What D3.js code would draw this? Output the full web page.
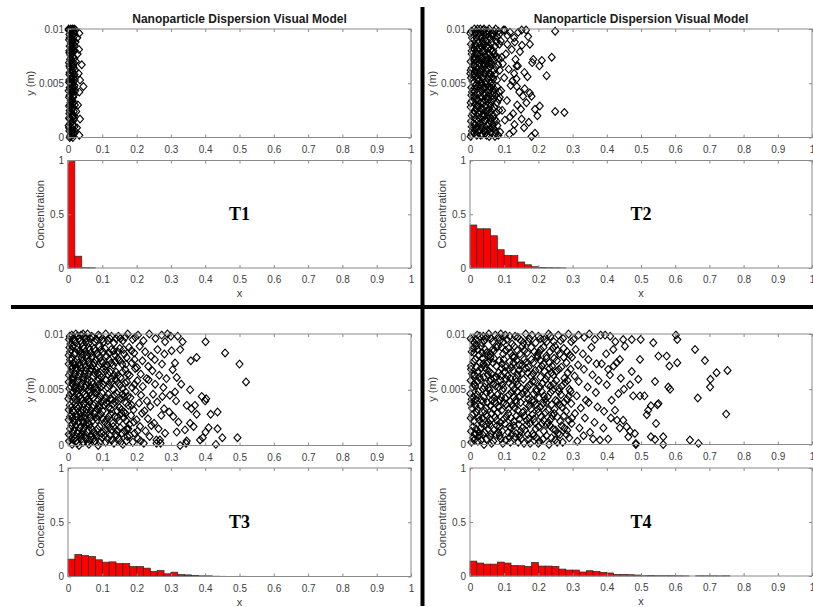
<!DOCTYPE html>
<html>
<head>
<meta charset="utf-8">
<script src="https://cdn.jsdelivr.net/npm/d3@7"></script>
<style>
  body { margin: 0; background: #fff; }
  svg text { font-family: "Liberation Sans", Arial, sans-serif; }
</style>
</head>
<body>
<svg id="chart" width="813" height="607"></svg>
<script>
// ---- data ----
const xTicks = [0, 0.1, 0.2, 0.3, 0.4, 0.5, 0.6, 0.7, 0.8, 0.9, 1];
const yTicksScatter = [0, 0.005, 0.01];
const yTicksHist = [0, 0.5, 1];
const binWidth = 0.02;
const panelLabels = ["T1", "T2", "T3", "T4"];
const titleText = "Nanoparticle Dispersion Visual Model";

// concentration per 0.02-wide bin, starting at x = 0
const hist1 = [1.0, 0.11, 0.003, 0.002];
const hist2 = [0.40, 0.365, 0.365, 0.30, 0.17, 0.118, 0.115, 0.056, 0.03, 0.012, 0.006, 0.003, 0.002, 0.001];
const hist3 = [0.16, 0.203, 0.194, 0.185, 0.154, 0.132, 0.135, 0.12, 0.12, 0.092, 0.092, 0.077, 0.046, 0.055,
  0.025, 0.04, 0.018, 0.015, 0.01, 0.006, 0.006, 0.003, 0.002, 0.001, 0.001, 0.002];
const hist4 = [0.138, 0.12, 0.11, 0.11, 0.129, 0.12, 0.098, 0.095, 0.089, 0.126, 0.092, 0.092, 0.089, 0.064,
  0.055, 0.055, 0.037, 0.049, 0.043, 0.034, 0.028, 0.015, 0.015, 0.012, 0.009, 0.003, 0.006, 0.003, 0.003,
  0.003, 0.002, 0.001, 0, 0.002, 0.002, 0.002, 0.001, 0.002];

// particle positions: [x in percent of 1, y in mm]
const points1 = [
  [0.8,0.1],[1.6,0.3],[0.4,0.6],[1.2,0.8],[1.9,1.0],[0.6,1.3],[1.4,1.5],[0.3,1.8],[1.8,2.0],[1.0,2.2],
  [0.5,2.5],[1.5,2.7],[2.0,3.0],[0.7,3.2],[1.3,3.4],[0.3,3.7],[1.7,3.9],[0.9,4.1],[1.4,4.4],[0.5,4.6],
  [1.9,4.8],[1.1,5.0],[0.4,5.3],[1.6,5.5],[0.8,5.7],[1.3,6.0],[2.1,6.2],[0.6,6.4],[1.5,6.6],[0.3,6.9],
  [1.0,7.1],[1.8,7.3],[0.7,7.6],[1.4,7.8],[0.4,8.0],[1.2,8.3],[1.9,8.5],[0.8,8.7],[1.5,9.0],[0.5,9.2],
  [1.1,9.4],[1.8,9.6],[0.6,9.8],[1.3,10],[0.2,9.9],[2.2,9.9],[1.0,0.5],[0.9,2.8],[1.2,4.9],[0.9,6.8],
  [1.1,8.9],[1.7,1.7],[0.6,5.0],[1.6,8.1],[2.4,2.4],[2.3,7.0],
  [1.0,0.3],[0.3,0.9],[1.5,1.1],[0.8,1.6],[1.2,2.0],[0.4,2.2],[1.7,2.4],[1.1,2.6],[0.6,3.0],[1.6,3.2],
  [1.0,3.6],[0.5,3.9],[1.3,4.2],[0.7,4.4],[1.7,4.6],[1.0,4.8],[0.3,5.1],[1.4,5.2],[0.9,5.4],[1.9,5.8],
  [0.5,6.0],[1.1,6.3],[1.7,6.9],[0.6,7.2],[1.3,7.4],[0.9,7.9],[1.8,8.0],[0.5,8.4],[1.4,8.6],[0.9,9.1],
  [1.7,9.3],[0.4,9.5],[1.2,9.8],[0.8,10],[1.8,10],[1.4,0.0],[0.5,0.0],[2.0,0.6],[2.1,4.3],[2.0,5.3],
  [2.2,8.8],
  [0.7,0.2],[1.3,0.6],[0.2,1.1],[1.1,1.4],[0.5,1.7],[1.4,1.9],[0.8,2.4],[0.3,2.9],[1.2,3.1],[0.8,3.4],
  [1.5,3.7],[0.2,4.3],[0.8,4.6],[1.5,4.9],[0.7,5.2],[1.2,5.6],[0.4,5.8],[1.0,6.1],[1.7,6.4],[0.4,6.6],
  [1.2,6.9],[0.8,7.3],[0.4,7.8],[1.1,8.1],[0.7,8.5],[1.3,8.8],[0.3,9.0],[1.0,9.6],[1.5,9.9],[0.2,10],
  [4.0,6.7],[4.5,4.7],[3.3,9.6],[3.5,5.3],[3.3,4.2],[3.5,1.7],[3.3,0.2],[3.2,8.1],[3.1,5.9],[2.9,3.0],
  [2.8,7.7],[2.7,9.2],[2.6,0.9]
];
const points2 = [
  [0.5,0.3],[1.8,0.8],[3.1,0.2],[4.2,0.6],[5.6,0.1],[6.4,0.9],[7.5,0.4],[2.4,0.5],[0.9,0.9],[5.0,0.7],
  [0.3,1.5],[1.5,1.2],[2.7,1.8],[3.8,1.3],[4.9,1.9],[6.1,1.4],[7.2,1.7],[8.0,1.1],[2.1,1.0],[5.5,1.3],
  [0.8,2.2],[1.9,2.7],[3.0,2.4],[4.4,2.9],[5.3,2.1],[6.6,2.6],[7.7,2.3],[0.2,2.8],[3.6,2.0],[6.0,2.9],
  [0.6,3.4],[1.6,3.1],[2.8,3.7],[4.0,3.2],[5.1,3.8],[6.3,3.3],[7.4,3.9],[8.4,3.5],[2.2,3.0],[4.7,3.6],
  [0.4,4.6],[1.3,4.2],[2.5,4.8],[3.5,4.3],[4.6,4.9],[5.8,4.4],[6.9,4.1],[7.9,4.7],[3.0,4.5],[6.4,4.8],
  [0.7,5.2],[1.7,5.7],[2.9,5.3],[4.1,5.9],[5.2,5.4],[6.2,5.1],[7.3,5.8],[0.1,5.9],[3.4,5.0],[5.7,5.6],
  [0.5,6.4],[1.4,6.1],[2.6,6.8],[3.7,6.3],[4.8,6.9],[5.9,6.5],[7.0,6.2],[8.2,6.7],[2.0,6.0],[4.3,6.6],
  [0.9,7.3],[2.0,7.8],[3.2,7.1],[4.3,7.6],[5.4,7.2],[6.5,7.9],[7.6,7.4],[0.2,7.0],[2.7,7.5],[5.9,7.0],
  [0.3,8.6],[1.2,8.1],[2.4,8.7],[3.5,8.3],[4.5,8.9],[5.7,8.4],[6.8,8.0],[7.8,8.8],[1.8,8.4],[4.1,8.0],
  [0.6,9.2],[1.6,9.7],[2.8,9.3],[3.9,9.9],[5.0,9.5],[6.1,9.1],[7.1,9.8],[0.1,9.6],[2.2,10],[4.4,9.4],
  [5.6,10],[6.6,9.6],[7.9,9.3],
  [0.2,0.1],[1.2,0.4],[2.9,0.7],[3.6,0.3],[4.8,0.2],[6.0,0.5],[7.0,0.8],[8.3,0.2],
  [1.0,1.3],[2.4,1.5],[3.3,1.1],[4.4,1.6],[5.9,1.8],[6.7,1.2],[7.7,1.5],
  [0.5,2.0],[1.4,2.4],[2.4,2.2],[3.9,2.6],[4.9,2.4],[5.8,2.3],[7.1,2.8],[8.5,2.5],
  [0.2,3.2],[1.1,3.8],[2.5,3.4],[3.4,3.7],[4.4,3.4],[5.6,3.1],[6.8,3.6],[7.9,3.2],
  [0.9,4.4],[1.9,4.5],[2.8,4.1],[4.1,4.6],[5.3,4.2],[6.1,4.6],[7.3,4.4],[8.5,4.2],
  [0.3,5.5],[1.2,5.1],[2.3,5.5],[3.7,5.5],[4.7,5.2],[5.9,5.9],[6.8,5.4],[7.9,5.3],
  [1.0,6.7],[1.8,6.5],[3.1,6.1],[4.0,6.8],[5.3,6.3],[6.3,6.8],[7.5,6.5],[8.7,6.2],
  [0.5,7.7],[1.5,7.4],[2.4,7.2],[3.7,7.9],[4.9,7.4],[6.2,7.4],[7.1,7.7],[8.4,7.3],
  [0.8,8.3],[2.1,8.1],[3.0,8.5],[4.0,8.6],[5.2,8.2],[6.3,8.7],[7.3,8.4],[8.6,8.6],
  [1.1,9.0],[2.5,9.6],[3.4,9.2],[4.8,9.8],[5.5,9.3],[6.8,9.4],[7.5,10],[8.3,9.8],[1.3,10],[3.0,10],[4.1,10],
  [0.6,0.6],[2.0,0.2],[3.4,0.9],[4.5,0.4],[5.8,0.8],[7.3,0.1],
  [0.5,1.0],[1.9,1.6],[2.9,1.3],[4.0,1.9],[5.2,1.1],[6.4,1.7],
  [1.1,2.2],[2.1,2.9],[3.2,2.7],[4.2,2.1],[5.5,2.6],[6.9,2.0],
  [0.4,3.9],[1.9,3.5],[3.1,3.2],[4.3,3.9],[5.4,3.5],[6.6,3.9],
  [0.6,4.2],[1.6,4.8],[3.3,4.8],[4.4,4.1],[5.6,4.7],[6.6,4.3],
  [0.9,5.8],[2.0,5.3],[3.1,5.8],[4.4,5.1],[5.5,5.9],[6.5,5.6],
  [0.2,6.2],[1.2,6.6],[2.3,6.3],[3.4,6.7],[4.6,6.2],[5.7,6.8],
  [1.2,7.1],[2.2,7.6],[3.4,7.4],[4.6,7.1],[5.6,7.7],[6.8,7.2],
  [0.5,8.0],[1.5,8.6],[2.7,8.2],[3.7,8.8],[4.9,8.4],[6.0,8.1],
  [0.4,9.8],[1.9,9.2],[3.1,9.7],[4.2,9.1],[5.3,9.8],[6.4,9.4],
  [8.8,0.5],[10.2,1.6],[11.5,0.3],[9.4,2.5],[12.6,2.2],[10.8,3.4],[13.8,3.0],[9.1,4.3],[11.9,4.8],[14.4,4.2],
  [10.0,5.5],[12.9,5.9],[9.6,6.8],[11.3,6.3],[13.6,6.6],[10.5,7.7],[12.2,8.1],[14.6,7.9],[9.0,8.9],[11.0,9.4],
  [12.9,9.2],[14.1,9.7],[9.8,9.9],[15.2,8.5],[13.0,1.2],[15.5,3.8],[8.7,3.7],[11.7,1.9],[14.9,2.6],[10.9,8.6],
  [13.3,7.2],[15.9,6.0],[9.3,7.4],[12.4,5.2],[8.5,9.5],[13.7,4.7],[15.1,9.9],
  [24.9,9.8],[23.9,7.4],[22.4,5.7],[24.9,2.4],[27.6,2.3],[21.0,7.1],[20.3,6.6],[20.4,2.9],[19.0,2.6],[19.7,2.0],
  [19.0,0.4],[18.0,0.1],[16.4,9.9],[17.0,9.3],[17.5,8.6],[18.5,7.2],[17.5,4.1],[18.0,3.8],[16.0,4.5],[16.5,3.2],
  [15.1,1.7],[15.8,0.9],[12.7,0.6],[13.1,8.8],[14.0,6.6],[13.6,5.4],[11.7,9.7],[10.2,9.9],[18.2,6.9],[16.8,5.6],
  [17.2,1.4]
];
const points3 = [
  [0.3,0.4],[1.2,0.1],[2.0,0.7],[2.7,0.2],[3.6,0.9],[4.4,0.3],[5.2,0.6],[6.1,0.1],[6.9,0.8],[7.8,0.4],
  [8.8,0.0],[9.9,0.7],[11.0,0.3],[12.3,0.9],[13.4,0.2],[14.8,0.6],[16.0,0.1],[17.3,0.8],[18.9,0.3],[20.4,0.6],
  [22.1,0.2],[23.8,0.8],[25.8,0.5],[27.0,0.2],
  [0.6,1.5],[1.4,1.1],[2.3,1.8],[3.0,1.3],[3.9,1.0],[4.7,1.6],[5.6,1.2],[6.3,1.9],[7.2,1.4],[8.1,1.0],
  [9.2,1.7],[10.3,1.2],[11.5,1.9],[12.7,1.4],[13.9,1.0],[15.2,1.6],[16.5,1.3],[17.9,1.9],[19.4,1.1],[21.0,1.7],
  [22.6,1.3],[24.3,1.8],[26.4,1.5],[28.3,1.1],
  [0.2,2.3],[1.0,2.8],[1.8,2.1],[2.6,2.6],[3.4,2.9],[4.3,2.2],[5.0,2.7],[5.9,2.0],[6.6,2.5],[7.6,2.9],
  [8.5,2.3],[9.6,2.8],[10.7,2.1],[11.9,2.6],[13.1,2.0],[14.4,2.5],[15.6,2.9],[17.0,2.2],[18.4,2.7],[20.0,2.3],
  [21.6,2.9],[23.3,2.4],[25.1,2.0],[27.2,2.7],
  [0.5,3.6],[1.3,3.1],[2.2,3.8],[2.9,3.3],[3.8,3.0],[4.6,3.7],[5.4,3.2],[6.2,3.9],[7.1,3.4],[8.0,3.0],
  [9.0,3.6],[10.1,3.1],[11.2,3.8],[12.5,3.3],[13.7,3.9],[15.0,3.4],[16.3,3.0],[17.6,3.6],[19.1,3.2],[20.7,3.8],
  [22.3,3.1],[24.0,3.5],[26.0,3.9],[28.0,3.3],
  [0.1,4.2],[0.9,4.7],[1.7,4.3],[2.5,4.9],[3.3,4.4],[4.1,4.0],[4.9,4.6],[5.7,4.1],[6.5,4.8],[7.4,4.3],
  [8.3,4.9],[9.4,4.4],[10.5,4.0],[11.7,4.6],[12.9,4.1],[14.1,4.7],[15.4,4.2],[16.8,4.8],[18.2,4.3],[19.7,4.9],
  [21.3,4.5],[23.0,4.0],[24.8,4.6],[27.5,4.4],
  [0.4,5.1],[1.2,5.6],[2.0,5.2],[2.8,5.8],[3.7,5.3],[4.5,5.9],[5.3,5.4],[6.0,5.0],[6.9,5.7],[7.8,5.2],
  [8.7,5.8],[9.8,5.3],[10.9,5.9],[12.1,5.4],[13.3,5.0],[14.6,5.6],[15.9,5.1],[17.2,5.7],[18.7,5.2],[20.2,5.8],
  [21.8,5.3],[23.5,5.9],[25.4,5.5],[27.8,5.2],
  [0.7,6.6],[1.5,6.1],[2.4,6.7],[3.1,6.2],[4.0,6.9],[4.8,6.4],[5.6,6.0],[6.4,6.7],[7.3,6.2],[8.2,6.8],
  [9.3,6.3],[10.4,6.9],[11.6,6.4],[12.8,6.0],[14.0,6.6],[15.3,6.1],[16.7,6.8],[18.0,6.3],[19.6,6.9],[21.2,6.4],
  [22.9,6.0],[24.6,6.7],[26.6,6.3],[28.7,6.0],
  [0.2,7.3],[1.1,7.8],[1.9,7.2],[2.7,7.7],[3.5,7.1],[4.4,7.6],[5.1,7.0],[6.0,7.5],[6.8,7.9],[7.7,7.4],
  [8.6,7.0],[9.7,7.6],[10.8,7.1],[12.0,7.7],[13.2,7.2],[14.5,7.8],[15.8,7.3],[17.1,7.9],[18.6,7.4],[20.1,7.0],
  [21.7,7.6],[23.4,7.1],[25.3,7.7],[27.4,7.3],
  [0.6,8.4],[1.4,8.9],[2.2,8.3],[3.0,8.8],[3.9,8.2],[4.7,8.7],[5.5,8.1],[6.3,8.6],[7.1,8.0],[8.0,8.5],
  [9.1,8.9],[10.2,8.4],[11.3,8.0],[12.6,8.6],[13.8,8.1],[15.1,8.7],[16.4,8.2],[17.8,8.8],[19.3,8.3],[20.9,8.9],
  [22.5,8.4],[24.2,8.0],[26.1,8.6],[28.1,8.2],
  [0.3,9.5],[1.1,9.9],[1.9,9.3],[2.7,9.8],[3.6,9.4],[4.4,10],[5.3,9.6],[6.1,9.2],[6.9,9.8],[7.8,9.3],
  [8.8,9.9],[9.9,9.5],[11.0,10],[12.2,9.6],[13.4,9.2],[14.7,9.8],[16.0,9.4],[17.4,10],[18.9,9.5],[20.4,9.9],
  [22.0,9.4],[23.7,10],[25.5,9.6],[27.3,9.9],[29.0,10],[30.0,9.8],[28.3,9.3],
  [0.9,0.6],[2.4,0.4],[3.2,0.0],[4.8,0.9],[5.7,0.3],[7.4,0.6],[9.3,0.3],[10.5,0.9],[12.8,0.5],[15.4,0.3],[18.0,0.9],[21.2,0.4],
  [0.2,1.0],[1.8,1.4],[3.4,1.6],[4.3,1.3],[6.6,1.6],[7.7,1.1],[8.6,1.5],[11.0,1.4],[13.2,1.7],[14.5,1.3],[17.2,1.5],[20.3,1.3],
  [0.6,2.6],[2.2,2.3],[3.0,2.1],[4.7,2.5],[5.4,2.9],[7.1,2.2],[8.9,2.6],[10.1,2.4],[12.5,2.8],[14.9,2.2],[16.3,2.5],[19.2,2.1],
  [0.9,3.4],[1.7,3.0],[3.3,3.5],[4.2,3.2],[5.8,3.5],[6.6,3.1],[8.5,3.3],[9.6,3.9],[11.8,3.4],[14.4,3.1],[16.9,3.8],[18.6,3.6],
  [0.5,4.5],[2.1,4.1],[2.9,4.6],[3.7,4.2],[5.3,4.4],[6.1,4.0],[7.9,4.7],[8.9,4.1],[11.1,4.3],[13.5,4.5],[15.9,4.6],[17.4,4.4],
  [0.8,5.3],[1.6,5.9],[2.4,5.5],[3.3,5.0],[4.9,5.2],[5.7,5.7],[7.3,5.5],[8.3,5.1],[10.3,5.5],[12.7,5.7],[15.2,5.4],[19.4,5.5],
  [0.3,6.3],[1.1,6.9],[2.0,6.4],[3.5,6.5],[4.4,6.1],[6.0,6.4],[6.8,6.9],[8.7,6.5],[9.8,6.1],[12.2,6.6],[14.6,6.3],[17.4,6.4],
  [0.6,7.7],[1.5,7.4],[2.3,7.0],[3.1,7.4],[4.8,7.3],[5.5,7.8],[7.2,7.2],[8.1,7.7],[10.2,7.4],[12.6,7.4],[15.1,7.6],[19.4,7.7],
  [0.2,8.1],[1.0,8.6],[1.8,8.2],[3.4,8.5],[4.3,8.9],[5.1,8.4],[6.7,8.3],[8.5,8.2],[9.6,8.6],[12.0,8.3],[14.5,8.4],[18.5,8.5],
  [0.7,9.1],[1.5,9.6],[2.3,10],[3.2,9.6],[4.0,9.2],[4.8,9.7],[5.7,10],[7.3,9.7],[8.3,9.5],[10.4,9.3],[12.7,9.8],[15.3,9.6],[19.6,9.7],
  [0.6,0.9],[1.6,0.5],[4.0,0.6],[6.4,0.5],[8.2,0.8],[11.6,0.6],[14.2,0.9],[17.0,0.4],
  [1.0,1.8],[2.7,1.1],[5.2,1.9],[6.0,1.4],[9.8,1.1],[12.0,1.6],[15.7,1.1],[17.6,1.5],
  [1.3,2.5],[3.8,2.6],[4.5,2.0],[6.2,2.8],[8.0,2.5],[11.3,2.3],[13.6,2.6],[16.7,2.9],
  [0.2,3.2],[2.5,3.5],[5.1,3.9],[7.5,3.6],[9.3,3.4],[10.7,3.6],[13.1,3.7],[15.6,3.2],
  [1.3,4.8],[2.7,4.1],[4.4,4.8],[6.9,4.5],[9.9,4.7],[12.3,4.2],[14.7,4.0],[16.3,4.4],
  [0.2,5.7],[2.6,5.2],[4.1,5.6],[6.5,5.3],[9.1,5.5],[11.5,5.2],[13.9,5.9],[16.6,5.6],
  [0.9,6.0],[2.7,6.9],[5.1,6.7],[7.7,6.5],[9.0,6.0],[11.0,6.7],[13.5,6.3],[15.9,6.6],
  [0.9,7.1],[2.1,7.5],[4.0,7.9],[6.4,7.2],[9.2,7.9],[11.4,7.2],[13.8,7.5],[16.9,7.3],
  [0.4,8.8],[2.6,8.6],[4.5,8.2],[6.0,8.8],[7.6,8.7],[10.8,8.7],[13.3,8.5],[16.2,8.6],
  [0.5,9.8],[2.0,9.5],[3.8,9.9],[5.2,9.3],[6.5,9.6],[9.3,9.8],[11.6,9.4],[14.0,9.6],[16.7,9.7],
  [40.1,9.3],[45.8,8.3],[50.0,7.3],[51.9,5.7],[49.4,0.7],[45.0,0.7],[43.1,0.1],[43.6,1.5],[41.0,1.6],[40.1,1.2],
  [39.3,0.7],[41.6,2.8],[43.6,3.0],[40.0,4.0],[40.3,4.2],[39.0,4.4],[37.5,2.8],[37.0,3.6],[35.6,5.0],[36.0,3.3],
  [35.6,2.0],[36.6,1.7],[37.5,7.9],[35.8,7.6],[34.6,3.6],[34.1,1.4],[34.6,0.4],[34.4,0.2],[32.7,0.0],[33.4,9.3],
  [32.7,8.6],[31.7,6.1],[31.2,7.4],[30.2,8.5],[30.7,2.6],[32.2,2.1],[31.7,1.2],[31.2,4.8],[29.7,4.5],[26.8,0.5],
  [25.8,0.2],[33.0,5.5],[30.5,6.8],[29.5,3.0],[32.0,9.8],[38.5,0.5],[31.5,4.0]
];
const points4 = [
  [0.4,0.2],[1.5,0.9],[3.3,0.4],[4.1,0.0],[5.9,0.7],[6.8,0.3],[8.7,0.8],[9.6,0.1],[11.5,0.6],[12.2,0.9],
  [14.1,0.2],[15.0,0.5],[16.9,0.9],[17.6,0.1],[19.5,0.6],[20.3,0.3],[22.4,0.8],[23.1,0.0],[24.9,0.4],[26.3,0.9],
  [27.1,0.2],[29.0,0.6],[31.4,0.3],[33.2,0.8],[36.0,0.5],
  [0.9,1.6],[2.6,1.1],[3.5,1.9],[5.3,1.4],[6.2,1.0],[7.9,1.7],[9.4,1.2],[10.2,1.9],[12.0,1.5],[13.5,1.0],
  [14.3,1.8],[16.1,1.3],[17.5,1.9],[18.4,1.0],[20.1,1.6],[21.6,1.2],[22.5,1.8],[24.3,1.4],[25.7,1.0],[26.8,1.7],
  [28.4,1.3],[29.7,1.9],[32.0,1.5],[35.1,1.1],
  [0.2,2.4],[1.9,2.9],[2.8,2.2],[4.6,2.7],[5.4,2.0],[7.3,2.5],[8.1,2.9],[9.9,2.3],[11.2,2.8],[12.8,2.1],
  [13.6,2.6],[15.4,2.9],[16.6,2.2],[18.2,2.7],[19.0,2.0],[20.8,2.5],[22.1,2.9],[23.7,2.3],[24.6,2.8],[26.4,2.1],
  [27.5,2.6],[28.9,2.2],[30.7,2.8],[33.6,2.4],[36.4,2.0],
  [0.6,3.3],[1.2,3.9],[3.0,3.5],[4.3,3.0],[5.1,3.8],[6.9,3.2],[7.6,3.7],[9.2,3.1],[10.6,3.6],[11.8,3.9],
  [13.1,3.3],[14.8,3.8],[15.7,3.0],[17.3,3.5],[18.8,3.9],[19.8,3.2],[21.4,3.7],[22.8,3.1],[23.9,3.6],[25.5,3.9],
  [26.9,3.4],[28.1,3.0],[29.6,3.7],[32.4,3.3],[34.7,3.8],[37.3,3.4],
  [0.1,4.6],[1.7,4.1],[2.5,4.8],[4.0,4.3],[5.7,4.9],[6.4,4.0],[8.0,4.5],[9.5,4.9],[10.3,4.2],[12.1,4.7],
  [13.3,4.0],[14.6,4.4],[16.2,4.9],[17.0,4.1],[18.6,4.6],[20.2,4.2],[21.0,4.8],[22.7,4.3],[24.1,4.9],[25.0,4.0],
  [26.6,4.5],[28.3,4.1],[29.4,4.8],[31.2,4.4],[33.9,4.0],[36.8,4.7],
  [0.8,5.2],[2.2,5.7],[3.8,5.0],[4.5,5.5],[6.1,5.9],[7.5,5.3],[8.9,5.8],[9.8,5.1],[11.4,5.6],[12.9,5.0],
  [14.0,5.4],[15.6,5.9],[16.8,5.2],[18.3,5.7],[19.4,5.0],[21.1,5.5],[22.2,5.9],[23.6,5.3],[25.2,5.8],[26.1,5.1],
  [27.8,5.6],[29.1,5.0],[31.8,5.7],[34.4,5.2],[37.6,5.8],
  [0.3,6.8],[1.4,6.3],[3.2,6.9],[4.0,6.1],[5.6,6.6],[7.0,6.0],[8.4,6.5],[9.3,6.9],[11.0,6.2],[12.6,6.7],
  [13.4,6.0],[15.1,6.4],[16.4,6.9],[17.8,6.2],[19.1,6.7],[20.6,6.1],[21.8,6.6],[23.3,6.9],[24.4,6.3],[26.0,6.8],
  [27.6,6.0],[28.6,6.5],[30.6,6.2],[33.3,6.8],[35.8,6.3],
  [1.0,7.5],[2.0,7.0],[3.6,7.8],[4.9,7.3],[6.0,7.9],[7.7,7.1],[8.6,7.6],[10.4,7.0],[11.6,7.5],[13.0,7.9],
  [14.4,7.2],[15.9,7.7],[17.1,7.0],[18.5,7.4],[19.8,7.9],[21.5,7.3],[22.4,7.8],[24.0,7.1],[25.4,7.6],[26.7,7.0],
  [28.2,7.4],[29.8,7.9],[31.6,7.2],[34.6,7.7],[37.0,7.3],
  [0.5,8.4],[1.8,8.9],[2.7,8.1],[4.4,8.6],[5.3,8.0],[7.1,8.5],[8.2,8.9],[9.7,8.2],[11.3,8.7],[12.4,8.0],
  [13.9,8.5],[15.3,8.9],[16.7,8.3],[17.9,8.8],[19.6,8.1],[20.7,8.6],[22.3,8.0],[23.4,8.4],[24.8,8.9],[26.2,8.2],
  [27.4,8.7],[29.2,8.1],[30.9,8.6],[33.0,8.2],[35.5,8.8],
  [0.2,9.6],[1.3,9.2],[2.9,9.8],[4.2,9.4],[5.5,10],[6.6,9.3],[8.3,9.7],[9.0,10],[10.8,9.5],[12.3,9.1],
  [13.2,9.8],[14.9,9.4],[16.3,10],[17.4,9.6],[19.2,9.2],[20.0,9.8],[21.7,9.5],[23.0,10],[24.5,9.3],[25.8,9.9],
  [27.2,9.6],[28.8,10],[30.3,9.5],[31.7,9.9],[33.4,9.7],[34.9,10],[36.5,9.5],[38.2,9.9],
  [0.9,0.6],[2.3,0.3],[4.9,0.5],[7.6,0.9],[10.4,0.4],[13.2,0.7],[15.8,0.1],[18.7,0.8],[21.4,0.5],[25.5,0.2],[28.2,0.9],[2.7,0.8],
  [0.3,1.2],[1.8,1.4],[4.3,1.1],[7.0,1.3],[8.7,1.6],[11.2,1.1],[12.8,1.7],[15.3,1.5],[19.2,1.4],[23.4,1.7],[27.6,1.5],[4.7,1.8],
  [1.1,2.1],[3.6,2.4],[6.4,2.8],[8.9,2.0],[10.6,2.5],[14.4,2.3],[17.3,2.4],[20.1,2.9],[22.9,2.0],[25.5,2.5],[29.8,2.4],[6.0,2.2],
  [0.2,3.7],[2.2,3.2],[3.8,3.9],[6.0,3.5],[8.4,3.4],[12.4,3.6],[14.0,3.1],[16.5,3.7],[20.6,3.4],[24.7,3.2],[27.5,3.8],[9.9,3.8],
  [0.9,4.3],[3.3,4.0],[4.8,4.7],[7.2,4.2],[8.8,4.0],[11.4,4.5],[15.4,4.6],[19.4,4.8],[22.0,4.1],[26.0,4.8],[28.9,4.4],[13.9,4.8],
  [0.2,5.8],[1.5,5.3],[3.0,5.9],[5.3,5.1],[6.8,5.5],[8.3,5.2],[10.6,5.9],[13.6,5.7],[17.5,5.4],[20.5,5.2],[24.5,5.5],[28.5,5.8],
  [0.9,6.2],[2.4,6.6],[4.8,6.8],[6.3,6.4],[7.7,6.1],[10.2,6.6],[11.8,6.0],[14.3,6.7],[18.5,6.4],[22.6,6.2],[25.2,6.6],[29.4,6.8],
  [0.3,7.1],[2.9,7.4],[4.3,7.0],[5.4,7.5],[7.0,7.8],[9.4,7.3],[12.2,7.0],[13.7,7.6],[16.3,7.4],[20.6,7.6],[23.2,7.4],[27.4,7.9],
  [1.2,8.3],[2.2,8.6],[3.6,8.3],[6.0,8.2],[7.7,8.8],[10.4,8.5],[12.9,8.9],[14.6,8.2],[18.8,8.4],[21.5,8.8],[25.6,8.5],[28.4,8.4],
  [0.7,9.4],[2.1,9.9],[3.5,9.2],[4.9,9.7],[7.4,9.9],[9.7,9.3],[11.6,9.8],[15.6,9.2],[18.1,9.9],[22.4,9.3],[26.5,9.4],[29.6,9.3],
  [1.2,0.4],[3.7,0.9],[6.3,0.1],[9.0,0.5],[11.8,0.2],[14.6,0.8],[17.2,0.5],[20.0,0.1],[23.8,0.6],
  [1.4,1.0],[3.1,1.5],[5.7,1.8],[8.3,1.1],[11.6,1.6],[14.8,1.2],[16.6,1.8],[21.0,1.9],[25.0,1.3],
  [0.7,2.7],[2.5,2.5],[5.0,2.6],[7.8,2.2],[12.0,2.4],[15.9,2.6],[18.7,2.3],[21.5,2.2],[24.1,2.6],
  [1.6,3.5],[4.7,3.3],[7.2,3.9],[11.2,3.2],[13.5,3.8],[17.8,3.2],[19.3,3.6],[22.3,3.8],[26.2,3.6],
  [0.5,4.1],[2.1,4.5],[6.0,4.6],[9.1,4.3],[12.7,4.3],[16.7,4.6],[18.1,4.0],[21.6,4.4],[23.6,4.7],
  [1.2,5.5],[4.2,5.2],[5.8,5.7],[9.4,5.4],[12.3,5.3],[15.0,5.1],[19.0,5.7],[22.8,5.4],[26.9,5.3],
  [0.6,6.4],[2.8,6.1],[5.2,6.3],[8.9,6.2],[11.4,6.8],[13.9,6.3],[16.9,6.5],[20.2,6.8],[23.8,6.5],
  [1.5,7.7],[3.9,7.3],[6.7,7.4],[9.9,7.7],[12.7,7.4],[15.3,7.2],[18.0,7.7],[21.0,7.1],[24.6,7.8],
  [0.9,8.7],[3.2,8.9],[4.8,8.3],[6.6,8.6],[9.2,8.8],[11.8,8.3],[15.9,8.5],[20.1,8.3],[24.2,8.7],
  [1.7,9.5],[3.9,9.8],[6.1,9.6],[8.7,9.4],[10.3,9.9],[14.0,9.7],[17.0,9.3],[20.6,9.6],[23.5,9.8],
  [75.3,6.7],[74.9,2.75],[72.1,6.5],[70.3,5.9],[70.2,5.2],[68.7,7.6],[65.8,8.6],[66.6,4.2],[66.8,0.1],[64.3,0.4],
  [60.2,9.9],[60.6,9.5],[60.6,7.4],[58.3,7.1],[57.5,8.0],[55.1,8.0],[58.0,5.2],[58.5,5.0],[54.1,5.7],[54.8,3.6],
  [55.1,3.7],[52.9,3.5],[51.7,2.7],[52.1,3.1],[54.4,1.9],[56.5,0.7],[56.5,0.0],[54.1,0.45],[52.9,0.7],[53.6,9.2],
  [49.9,9.5],[49.7,7.7],[49.2,5.9],[51.0,4.4],[49.7,4.4],[47.7,4.4],[48.2,1.0],[48.5,0.1],[48.5,0.0],[46.8,1.2],
  [46.3,0.7],[45.8,1.6],[43.8,1.5],[44.8,2.2],[47.3,6.6],[46.8,5.4],[45.0,5.0],[43.4,4.6],[47.3,9.5],[44.8,9.5],
  [45.3,8.9],[43.8,7.7],[42.9,7.4],[42.0,7.1],[40.4,6.8],[41.9,8.6],[40.9,6.3],[41.4,4.0],[42.4,3.1],[43.0,2.2],
  [40.4,0.5],[39.0,1.5],[38.0,0.4],[39.5,9.9],[41.0,9.8],[42.5,9.3],[39.2,3.0],[40.0,5.4],[38.5,7.3],[41.2,2.4],
  [44.1,6.0],[39.8,8.2]
];

const panels = [
  { label: panelLabels[0], points: points1, hist: hist1 },
  { label: panelLabels[1], points: points2, hist: hist2 },
  { label: panelLabels[2], points: points3, hist: hist3 },
  { label: panelLabels[3], points: points4, hist: hist4 }
];

// ---- layout (pixel boxes of each pair of axes) ----
const frames = [
  { l: 68,  r: 411, st: 29,  sb: 137.5, ht: 160.5, hb: 268,   title: true },
  { l: 470, r: 812, st: 29,  sb: 137.5, ht: 160.5, hb: 268,   title: true },
  { l: 68,  r: 411, st: 334, sb: 445.5, ht: 468,   hb: 576.5, title: false },
  { l: 470, r: 812, st: 334, sb: 444.5, ht: 468,   hb: 576,   title: false }
];

const boxColor = '#8a8a8a';
const textColor = '#404040';
const fmt = d3.format('~g');

const svg = d3.select('#chart');

function drawFrame(g, x, y, yTicks) {
  const [x0, x1] = x.range();
  const [y0, y1] = y.range();

  g.append('g').attr('transform', `translate(0,${y0})`)
    .call(d3.axisBottom(x).tickValues(xTicks).tickSize(-3).tickPadding(8).tickFormat(fmt));
  g.append('g').attr('transform', `translate(0,${y1})`)
    .call(d3.axisTop(x).tickValues(xTicks).tickSize(-3).tickFormat(''));
  g.append('g').attr('transform', `translate(${x0},0)`)
    .call(d3.axisLeft(y).tickValues(yTicks).tickSize(-3).tickPadding(4).tickFormat(fmt));
  g.append('g').attr('transform', `translate(${x1},0)`)
    .call(d3.axisRight(y).tickValues(yTicks).tickSize(-3).tickFormat(''));

  g.selectAll('.domain').remove();
  g.selectAll('.tick line').attr('stroke', boxColor);
  g.selectAll('.tick text').attr('fill', textColor).attr('font-size', 10);

  g.append('rect')
    .attr('x', x0).attr('y', y1)
    .attr('width', x1 - x0).attr('height', y0 - y1)
    .attr('fill', 'none')
    .attr('stroke', boxColor)
    .attr('stroke-width', 1);
}

// open diamond marker, a bit taller than wide
const diamond = 'M0,-3.9L3.5,0L0,3.9L-3.5,0Z';

panels.forEach((p, i) => {
  const fr = frames[i];
  const x = d3.scaleLinear().domain([0, 1]).range([fr.l, fr.r]);
  const yS = d3.scaleLinear().domain([0, 0.01]).range([fr.sb, fr.st]);
  const yH = d3.scaleLinear().domain([0, 1]).range([fr.hb, fr.ht]);

  // scatter of particle positions
  const gs = svg.append('g').attr('class', 'scatter');
  gs.append('g').selectAll('path')
    .data(p.points)
    .enter().append('path')
    .attr('d', diamond)
    .attr('transform', d => `translate(${x(d[0] / 100)},${yS(d[1] / 1000)})`)
    .attr('fill', 'none')
    .attr('stroke', '#000')
    .attr('stroke-width', 1.1);
  drawFrame(gs, x, yS, yTicksScatter);

  gs.append('text')
    .attr('transform', `translate(${fr.l - 38},${(fr.st + fr.sb) / 2}) rotate(-90)`)
    .attr('text-anchor', 'middle')
    .attr('dominant-baseline', 'central')
    .attr('font-size', 11)
    .attr('fill', textColor)
    .text('y (m)');

  if (fr.title) {
    gs.append('text')
      .attr('x', (fr.l + fr.r) / 2)
      .attr('y', fr.st - 6.5)
      .attr('text-anchor', 'middle')
      .attr('font-size', 12)
      .attr('font-weight', 'bold')
      .attr('fill', '#1a1a1a')
      .text(titleText);
  }

  // concentration histogram
  const gh = svg.append('g').attr('class', 'hist');
  gh.append('g').selectAll('rect')
    .data(p.hist)
    .enter().append('rect')
    .attr('x', (d, j) => x(j * binWidth))
    .attr('width', x(binWidth) - x(0))
    .attr('y', d => yH(d))
    .attr('height', d => yH(0) - yH(d))
    .attr('fill', '#ff0000')
    .attr('stroke', '#2a2a2a')
    .attr('stroke-width', 0.7);
  drawFrame(gh, x, yH, yTicksHist);

  gh.append('text')
    .attr('transform', `translate(${fr.l - 28},${(fr.ht + fr.hb) / 2}) rotate(-90)`)
    .attr('text-anchor', 'middle')
    .attr('dominant-baseline', 'central')
    .attr('font-size', 11)
    .attr('fill', textColor)
    .text('Concentration');

  gh.append('text')
    .attr('x', (fr.l + fr.r) / 2)
    .attr('y', fr.hb + 29)
    .attr('text-anchor', 'middle')
    .attr('font-size', 11)
    .attr('fill', textColor)
    .text('x');

  gh.append('text')
    .attr('x', x(0.5))
    .attr('y', yH(0.5))
    .attr('text-anchor', 'middle')
    .attr('dominant-baseline', 'central')
    .style('font-family', '"Liberation Serif", "Times New Roman", serif')
    .attr('font-size', 18)
    .attr('font-weight', 'bold')
    .attr('fill', '#000')
    .text(p.label);
});

// quadrant separators
svg.append('line')
  .attr('x1', 422.5).attr('x2', 422.5)
  .attr('y1', 7).attr('y2', 606)
  .attr('stroke', '#000').attr('stroke-width', 4);
svg.append('line')
  .attr('x1', 11).attr('x2', 813)
  .attr('y1', 307).attr('y2', 307)
  .attr('stroke', '#000').attr('stroke-width', 4);
</script>
</body>
</html>
